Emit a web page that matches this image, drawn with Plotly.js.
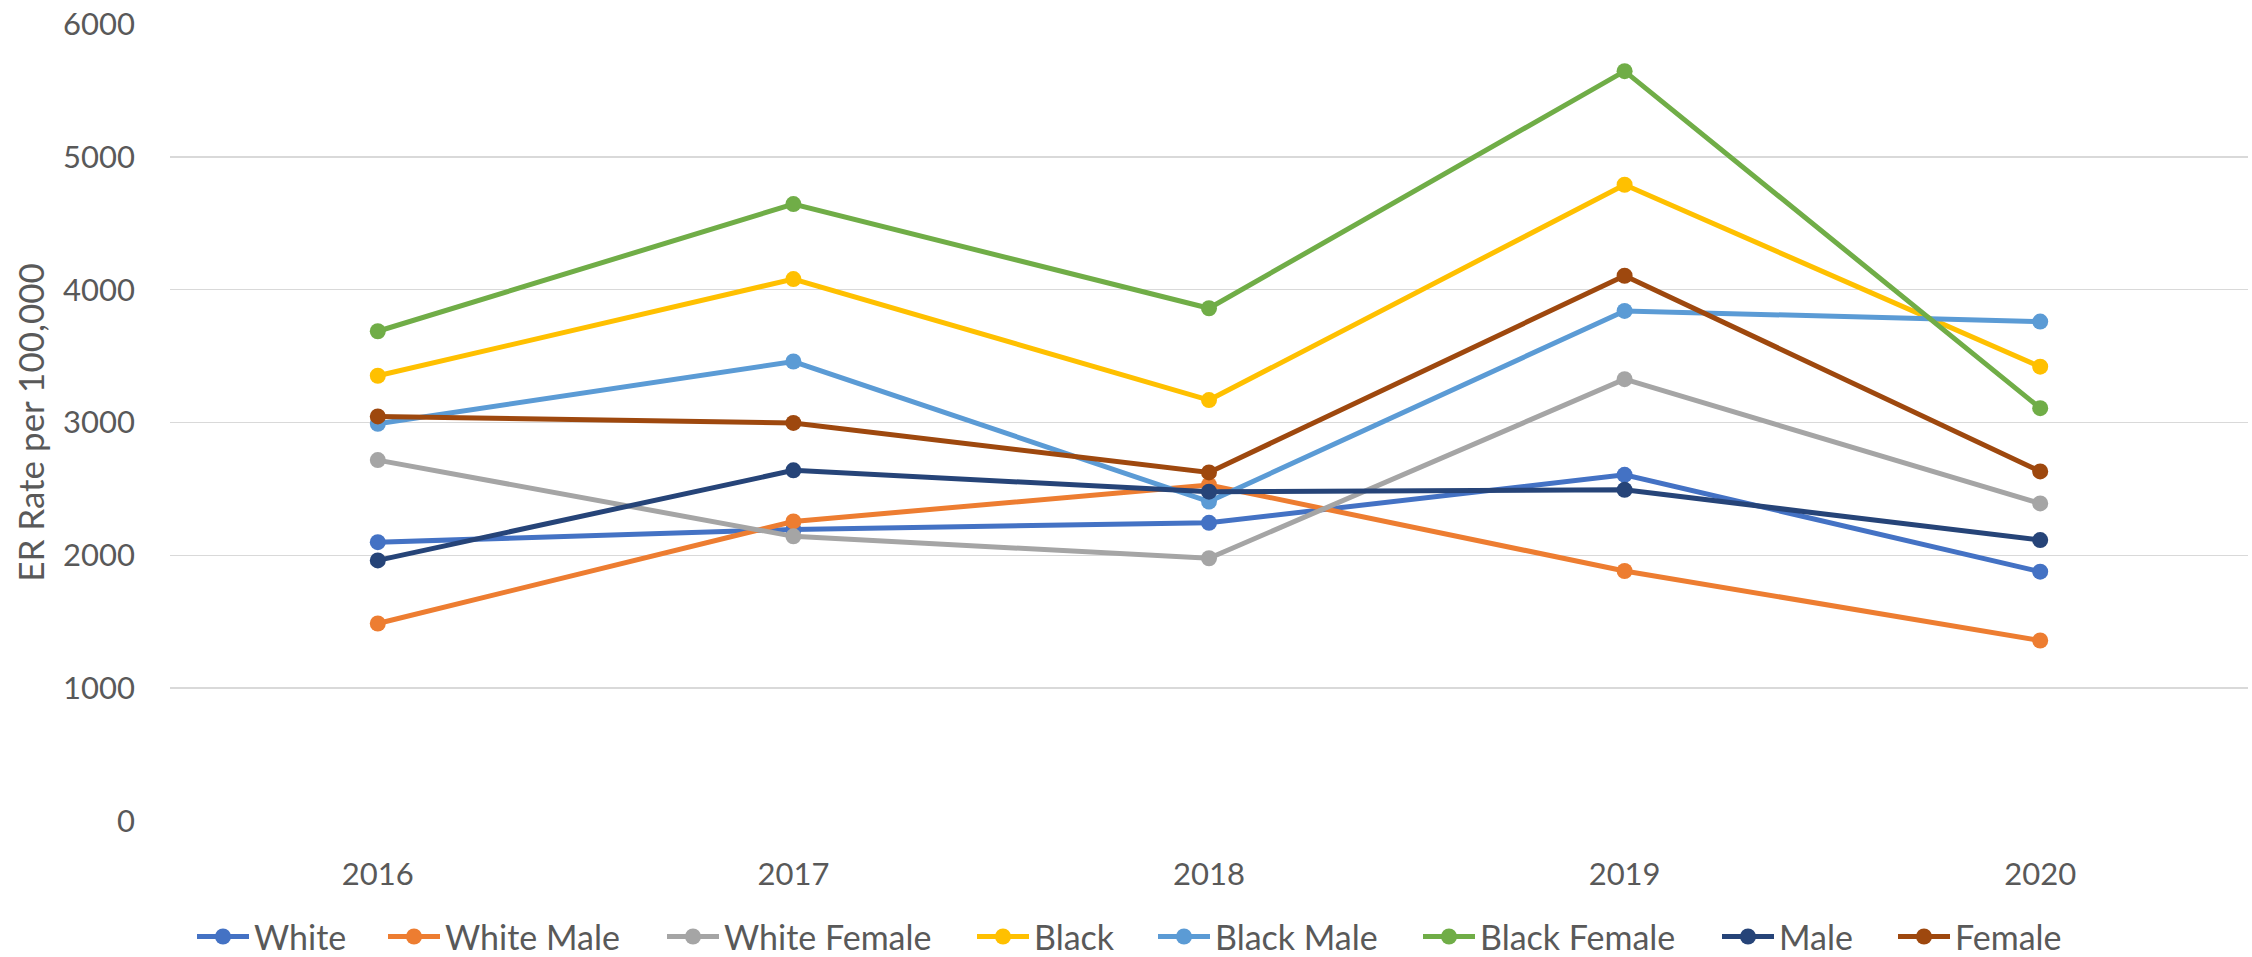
<!DOCTYPE html>
<html>
<head>
<meta charset="utf-8">
<script src="https://cdn.plot.ly/plotly-3.0.1.min.js"></script>
<style>html,body{margin:0;padding:0;background:#fff;}#chart{width:2252px;height:957px;}</style>
</head>
<body>
<div id="chart"></div>
<script>
const years = ['2016', '2017', '2018', '2019', '2020'];
const white = [2099, 2195, 2245, 2606, 1877];
const whiteMale = [1487, 2255, 2530, 1882, 1359];
const whiteFemale = [2717, 2143, 1978, 3326, 2391];
const black = [3352, 4080, 3169, 4790, 3420];
const blackMale = [2990, 3459, 2405, 3840, 3760];
const blackFemale = [3687, 4644, 3860, 5645, 3108];
const male = [1962, 2640, 2479, 2493, 2115];
const female = [3046, 2997, 2624, 4105, 2632];

const seriesNames = ['White', 'White Male', 'White Female', 'Black', 'Black Male', 'Black Female', 'Male', 'Female'];
const seriesValues = [white, whiteMale, whiteFemale, black, blackMale, blackFemale, male, female];
const seriesColors = ['#4472C4', '#ED7D31', '#A5A5A5', '#FFC000', '#5B9BD5', '#70AD47', '#264478', '#9E480E'];

const FONT = 'Lato, "Open Sans", sans-serif';
const TXT = '#595959';
const W = 2252;

// left edge (px) of each legend entry's text in the reference
const legendTextStart = [254, 445, 724, 1034, 1215, 1480, 1779, 1955];
const ITEMW = 52;

const traces = seriesNames.map((name, i) => ({
  type: 'scatter',
  mode: 'lines+markers',
  name: name,
  x: years,
  y: seriesValues[i],
  line: {color: seriesColors[i], width: 5},
  marker: {color: seriesColors[i], size: 16},
  cliponaxis: false,
  legend: i === 0 ? 'legend' : 'legend' + (i + 1)
}));

const layout = {
  width: W,
  height: 957,
  paper_bgcolor: '#ffffff',
  plot_bgcolor: '#ffffff',
  margin: {l: 170, r: 4, t: 24, b: 136},
  showlegend: true,
  font: {family: FONT, color: TXT},
  xaxis: {
    type: 'category',
    range: [-0.5, 4.5],
    showgrid: false,
    zeroline: false,
    showline: false,
    ticks: '',
    ticklabelstandoff: 32,
    tickfont: {family: FONT, size: 31, color: TXT}
  },
  yaxis: {
    range: [0, 6000],
    dtick: 1000,
    tickformat: 'd',
    showgrid: true,
    gridcolor: '#d9d9d9',
    gridwidth: 1.5,
    zeroline: false,
    showline: false,
    ticks: '',
    ticklabelstandoff: 34,
    tickfont: {family: FONT, size: 31, color: TXT},
    title: {text: 'ER Rate per 100,000', font: {family: FONT, size: 35, color: TXT}, standoff: 7}
  }
};

legendTextStart.forEach((ts, i) => {
  const key = i === 0 ? 'legend' : 'legend' + (i + 1);
  layout[key] = {
    orientation: 'h',
    xref: 'container',
    yref: 'container',
    x: (ts - (ITEMW + 10)) / W,
    xanchor: 'left',
    y: 0.021,
    yanchor: 'middle',
    font: {family: FONT, size: 34, color: TXT},
    itemwidth: ITEMW,
    bgcolor: 'rgba(0,0,0,0)',
    borderwidth: 0
  };
});

Plotly.newPlot('chart', traces, layout, {displayModeBar: false, staticPlot: true});
</script>
</body>
</html>
